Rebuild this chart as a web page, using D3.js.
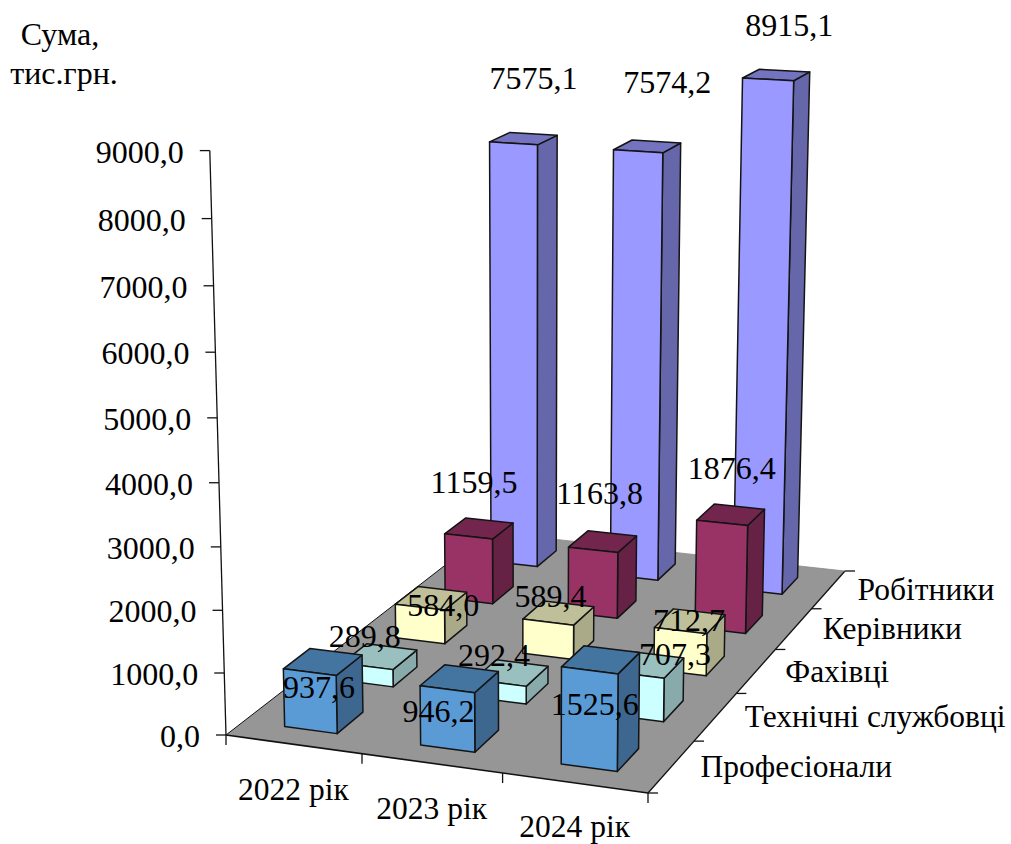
<!DOCTYPE html>
<html lang="uk">
<head>
<meta charset="utf-8">
<title>Сума, тис.грн.</title>
<script src="https://cdn.jsdelivr.net/npm/d3@7/dist/d3.min.js"></script>
<style>
  html, body { margin: 0; padding: 0; background: #fff; }
  svg { display: block; }
  text { font-family: "Liberation Serif", "Times New Roman", serif; fill: #000; }
</style>
</head>
<body>
<svg id="chart" width="1011" height="844"></svg>
<script>
// Chart data, front row first
const years = ["2022 рік", "2023 рік", "2024 рік"];
const categories = ["Професіонали", "Технічні службовці", "Фахівці", "Керівники", "Робітники"];
const professionals = [937.6, 946.2, 1525.6];
const technicalStaff = [289.8, 292.4, 707.3];
const specialists = [584.0, 589.4, 712.7];
const managers = [1159.5, 1163.8, 1876.4];
const workers = [7575.1, 7574.2, 8915.1];
const seriesValues = [professionals, technicalStaff, specialists, managers, workers];
const valueTicks = [0, 1000, 2000, 3000, 4000, 5000, 6000, 7000, 8000, 9000];
const axisTitle = ["Сума,", "тис.грн."];

// Presentation settings
const seriesColors = ["#5b9bd5", "#ccffff", "#ffffcc", "#993366", "#9999ff"];
const floorCorners = [[226, 735], [648, 793], [845, 571], [488, 532]];
const verticalVanish = [530, 11700];
const verticalStrength = 0.0506;
// Label shift from the centre of each bar's top face [dx, baseline dy]
const labelShift = [
  [[-4, 36], [-21, 43], [-6, 55]],
  [[-15, -10], [-17, -7], [28, 0]],
  [[12, 18], [-8, -6], [-1, 10]],
  [[-5, -35], [-3, -38], [1, -36]],
  [[10, -50], [20, -53], [13, -39]]
];

// Perspective mapping of the unit floor square onto the screen quadrilateral
function floorHomography([[x0, y0], [x1, y1], [x2, y2], [x3, y3]]) {
  const sx = x0 - x1 + x2 - x3, sy = y0 - y1 + y2 - y3;
  const dx1 = x1 - x2, dy1 = y1 - y2, dx2 = x3 - x2, dy2 = y3 - y2;
  const det = dx1 * dy2 - dx2 * dy1;
  const g = (sx * dy2 - dx2 * sy) / det;
  const h = (dx1 * sy - sx * dy1) / det;
  return [x1 - x0 + g * x1, x3 - x0 + h * x3, x0,
          y1 - y0 + g * y1, y3 - y0 + h * y3, y0, g, h];
}
const H = floorHomography(floorCorners);

const uScale = d3.scaleBand().domain(years).range([0, 1]).paddingInner(0.61).paddingOuter(0.305);
const vScale = d3.scaleBand().domain(categories).range([0, 1]).paddingInner(0.55).paddingOuter(0.29);
const hScale = d3.scaleLinear().domain([0, 9000]).range([0, 1]);

// (u, v) on the floor, h as a fraction of the value axis height
function project(u, v, h) {
  const t = -verticalStrength * h;
  const X = H[0] * u + H[1] * v + H[2] + t * verticalVanish[0];
  const Y = H[3] * u + H[4] * v + H[5] + t * verticalVanish[1];
  const W = H[6] * u + H[7] * v + 1 + t;
  return [X / W, Y / W];
}

const svg = d3.select("#chart");
const pathOf = pts => "M" + pts.map(p => p.map(n => n.toFixed(2)).join(",")).join("L") + "Z";
const lineOf = (a, b, g, w = 1.3) => g.append("line")
  .attr("x1", a[0]).attr("y1", a[1]).attr("x2", b[0]).attr("y2", b[1])
  .attr("stroke", "#111").attr("stroke-width", w);

// Floor
svg.append("path")
  .attr("d", pathOf([[0, 0], [1, 0], [1, 1], [0, 1]].map(([u, v]) => project(u, v, 0))))
  .attr("fill", "#969696");

// Axes and tick marks
const axes = svg.append("g");
lineOf(project(0, 0, 0), project(0, 0, hScale(9000)), axes);
lineOf(project(0, 0, 0), project(1, 0, 0), axes, 1.6);
lineOf(project(1, 0, 0), project(1, 1, 0), axes, 1.3);
lineOf(project(0, 0, 0), project(0, 1, 0), axes, 1);
lineOf(project(1, 1, 0), project(0, 1, 0), axes, 0.8).attr("stroke", "#888");

valueTicks.forEach(t => {
  const p = project(0, 0, hScale(t));
  lineOf(p, [p[0] - 10, p[1]], axes);
  axes.append("text").attr("class", "value-tick")
    .attr("x", p[0] - 26).attr("y", p[1] + 12)
    .attr("text-anchor", "end").attr("font-size", 32)
    .text(d3.format(".1f")(t).replace(".", ","));
});

d3.range(years.length + 1).forEach(i => {
  const p = project(i / years.length, 0, 0);
  lineOf(p, [p[0], p[1] + 10], axes);
});
d3.range(categories.length + 1).forEach(i => {
  const p = project(1, i / categories.length, 0);
  lineOf(p, [p[0] + 10, p[1]], axes);
});

years.forEach((y, i) => {
  const p = project((i + 0.5) / years.length, 0, 0);
  axes.append("text").attr("x", p[0]).attr("y", Math.min(p[1] + 56, 837))
    .attr("text-anchor", "middle").attr("font-size", 31.5).text(y);
});
categories.forEach((c, i) => {
  const p = project(1, (i + 0.5) / categories.length, 0);
  axes.append("text").attr("x", p[0] + 29).attr("y", p[1] + 10.5)
    .attr("font-size", 31.5).text(c);
});

svg.append("text").attr("x", 60).attr("y", 45).attr("text-anchor", "middle")
  .attr("font-size", 32).text(axisTitle[0]);
svg.append("text").attr("x", 64).attr("y", 84).attr("text-anchor", "middle")
  .attr("font-size", 32).text(axisTitle[1]);

// Bars, painted from the back row forward and left to right
const bars = svg.append("g");
const labels = svg.append("g");
d3.range(categories.length - 1, -1, -1).forEach(row => {
  const base = d3.color(seriesColors[row]);
  const tone = k => d3.rgb(base.r * k, base.g * k, base.b * k).formatHex();
  years.forEach((year, col) => {
    const value = seriesValues[row][col];
    const u0 = uScale(year), u1 = u0 + uScale.bandwidth();
    const v0 = vScale(categories[row]), v1 = v0 + vScale.bandwidth();
    const h = hScale(value);
    const g = bars.append("g")
      .attr("stroke", "#141414").attr("stroke-width", 1.5).attr("stroke-linejoin", "round");
    g.append("path").attr("fill", tone(2 / 3))
      .attr("d", pathOf([project(u1, v0, 0), project(u1, v1, 0), project(u1, v1, h), project(u1, v0, h)]));
    g.append("path").attr("fill", tone(0.75))
      .attr("d", pathOf([project(u0, v0, h), project(u1, v0, h), project(u1, v1, h), project(u0, v1, h)]));
    g.append("path").attr("fill", tone(1))
      .attr("d", pathOf([project(u0, v0, 0), project(u1, v0, 0), project(u1, v0, h), project(u0, v0, h)]));

    const top = project((u0 + u1) / 2, (v0 + v1) / 2, h);
    const [dx, dy] = labelShift[row][col];
    labels.append("text").attr("x", top[0] + dx).attr("y", top[1] + dy)
      .attr("text-anchor", "middle").attr("font-size", 32)
      .text(d3.format(".1f")(value).replace(".", ","));
  });
});
</script>
</body>
</html>
